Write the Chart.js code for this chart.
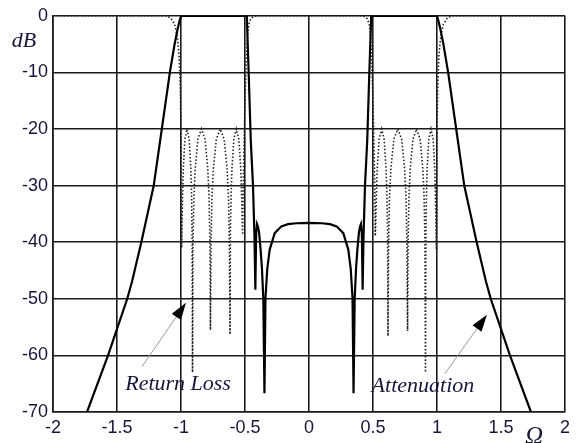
<!DOCTYPE html>
<html>
<head>
<meta charset="utf-8">
<script src="https://cdn.jsdelivr.net/npm/chart.js@4/dist/chart.umd.min.js"></script>
<style>
  body { margin: 0; background: #fff; }
  canvas { display: block; }
</style>
</head>
<body>
<canvas id="myChart" width="576" height="443"></canvas>
<script>
// normalized frequency (Omega) and response in dB
var att_x = [-1.734, -1.57, -1.42, -1.383, -1.31, -1.213, -1.15, -1.087, -1.05, -1.025, -1.01, -1.0, -0.99,
  -0.486, -0.47, -0.455, -0.4375, -0.426, -0.419, -0.413, -0.406, -0.398, -0.39, -0.378, -0.368, -0.357,
  -0.348, -0.34, -0.326, -0.307, -0.268, -0.216, -0.164, -0.1, 0,
  0.1, 0.164, 0.216, 0.268, 0.307, 0.326, 0.34, 0.348, 0.357, 0.368, 0.378, 0.39, 0.398, 0.406, 0.413,
  0.419, 0.426, 0.4375, 0.455, 0.47, 0.486,
  0.99, 1.0, 1.01, 1.025, 1.05, 1.087, 1.15, 1.213, 1.31, 1.383, 1.42, 1.57, 1.734];
var att_db = [-70, -60, -50, -47, -40, -30, -20, -10, -5, -2.2, -0.8, -0.1, 0,
  0, -11, -22, -30, -39, -48.4, -38.5, -36.8, -37.3, -38.3, -41.3, -44.5, -49.9,
  -66.7, -49.9, -44.7, -41.3, -38.4, -37.2, -36.8, -36.65, -36.6,
  -36.65, -36.8, -37.2, -38.4, -41.3, -44.7, -49.9, -66.7, -49.9, -44.5, -41.3, -38.3, -37.3, -36.8, -38.5,
  -48.4, -39, -30, -22, -11, 0,
  0, -0.1, -0.8, -2.2, -5, -10, -20, -30, -40, -47, -50, -60, -70];

var rl_x = [-2, -1.12, -1.08, -1.05, -1.03, -1.015, -1.005, -0.999, -0.995,
  -0.993, -0.988, -0.982, -0.97, -0.953, -0.936, -0.923, -0.917, -0.913, -0.91,
  -0.906, -0.899, -0.889, -0.868, -0.84, -0.812, -0.791, -0.781, -0.774, -0.77,
  -0.765, -0.758, -0.747, -0.724, -0.694, -0.663, -0.64, -0.629, -0.622, -0.617,
  -0.614, -0.609, -0.602, -0.587, -0.568, -0.548, -0.533, -0.526, -0.521, -0.518,
  -0.512, -0.505, -0.497, -0.49, -0.484, -0.478, -0.47, -0.455, -0.43, -0.4,
  0.4, 0.43, 0.455, 0.47, 0.478, 0.484, 0.49, 0.497, 0.505, 0.512, 0.518,
  0.521, 0.526, 0.533, 0.548, 0.568, 0.587, 0.602, 0.609, 0.614, 0.617,
  0.622, 0.629, 0.64, 0.663, 0.694, 0.724, 0.747, 0.758, 0.765, 0.77,
  0.774, 0.781, 0.791, 0.812, 0.84, 0.868, 0.889, 0.899, 0.906, 0.91,
  0.913, 0.917, 0.923, 0.936, 0.953, 0.97, 0.982, 0.988, 0.993, 0.995,
  0.999, 1.005, 1.015, 1.03, 1.05, 1.08, 1.12, 2];
var rl_db = [0, 0, -0.4, -1.5, -3.5, -7, -13, -22, -41,
  -38, -32, -27, -21.8, -20, -21.8, -27, -32, -40, -63,
  -40, -32, -27, -21.8, -20, -21.8, -27, -32, -40, -55.5,
  -40, -32, -27, -21.8, -20, -21.8, -27, -32, -40, -56.3,
  -38, -32, -27, -21.8, -20, -21.8, -27, -32, -37, -38.7,
  -28, -20, -13, -8, -5, -3, -1.5, -0.5, -0.1, 0,
  0, -0.1, -0.5, -1.5, -3, -5, -8, -13, -20, -28, -38.9,
  -37, -32, -27, -21.8, -20, -21.8, -27, -32, -38, -56.6,
  -40, -32, -27, -21.8, -20, -21.8, -27, -32, -40, -55.7,
  -40, -32, -27, -21.8, -20, -21.8, -27, -32, -40, -63,
  -40, -32, -27, -21.8, -20, -21.8, -27, -32, -38, -41.3,
  -22, -13, -7, -3.5, -1.5, -0.4, 0, 0];

var x_ticks = [-2, -1.5, -1, -0.5, 0, 0.5, 1, 1.5, 2];
var y_ticks = [0, -10, -20, -30, -40, -50, -60, -70];

function puntos(xs, ys) {
  var out = [];
  for (var i = 0; i < xs.length; i++) out.push({ x: xs[i], y: ys[i] });
  return out;
}

var colorTexto = '#16163a';

function flecha(ctx, x1, y1, x2, y2) {
  var ang = Math.atan2(y2 - y1, x2 - x1);
  ctx.strokeStyle = '#9a9a9a';
  ctx.lineWidth = 1;
  ctx.beginPath();
  ctx.moveTo(x1, y1);
  ctx.lineTo(x2 - 12 * Math.cos(ang), y2 - 12 * Math.sin(ang));
  ctx.stroke();
  ctx.fillStyle = '#000';
  ctx.beginPath();
  ctx.moveTo(x2, y2);
  ctx.lineTo(x2 - 17 * Math.cos(ang) + 5.5 * Math.sin(ang), y2 - 17 * Math.sin(ang) - 5.5 * Math.cos(ang));
  ctx.lineTo(x2 - 17 * Math.cos(ang) - 5.5 * Math.sin(ang), y2 - 17 * Math.sin(ang) + 5.5 * Math.cos(ang));
  ctx.closePath();
  ctx.fill();
}

// labels, arrows and axis names
var rotulos = {
  id: 'rotulos',
  afterDraw: function (chart) {
    var ctx = chart.ctx;
    var sx = chart.scales.x, sy = chart.scales.y;
    ctx.save();
    flecha(ctx, sx.getPixelForValue(-1.305), sy.getPixelForValue(-62), sx.getPixelForValue(-0.961), sy.getPixelForValue(-50.7));
    flecha(ctx, sx.getPixelForValue(1.0625), sy.getPixelForValue(-63.2), sx.getPixelForValue(1.39), sy.getPixelForValue(-52.8));

    ctx.fillStyle = colorTexto;
    ctx.textBaseline = 'alphabetic';
    ctx.textAlign = 'center';
    ctx.font = 'italic 22px "Liberation Serif", serif';
    ctx.fillText('Return Loss', sx.getPixelForValue(-1.023), sy.getPixelForValue(-66.2));
    ctx.fillText('Attenuation', sx.getPixelForValue(0.89), sy.getPixelForValue(-66.5));

    ctx.font = 'italic 22px "Liberation Serif", serif';
    ctx.fillText('dB', 24, 47);
    ctx.font = 'italic 25px "Liberation Serif", serif';
    ctx.fillText('\u03A9', 534, 444);
    ctx.restore();
  }
};

new Chart(document.getElementById('myChart'), {
  type: 'scatter',
  data: {
    datasets: [
      {
        label: 'Attenuation',
        data: puntos(att_x, att_db),
        showLine: true,
        borderColor: '#000',
        borderWidth: 2.2,
        pointRadius: 0,
        tension: 0,
        order: 0
      },
      {
        label: 'Return Loss',
        data: puntos(rl_x, rl_db),
        showLine: true,
        borderColor: '#222',
        borderWidth: 1.6,
        borderDash: [1.5, 2],
        pointRadius: 0,
        tension: 0,
        order: 1
      }
    ]
  },
  options: {
    responsive: false,
    animation: false,
    devicePixelRatio: 1,
    layout: { padding: { top: 9, right: 11, left: 0, bottom: 0 } },
    plugins: {
      legend: { display: false },
      tooltip: { enabled: false }
    },
    scales: {
      x: {
        type: 'linear',
        min: -2,
        max: 2,
        afterFit: function (s) { s.height = 31; },
        afterBuildTicks: function (s) { s.ticks = x_ticks.map(function (v) { return { value: v }; }); },
        grid: { color: '#1a1a1a', lineWidth: 1.6, drawTicks: false },
        border: { color: '#1a1a1a', width: 1.6 },
        ticks: {
          padding: 5,
          color: colorTexto,
          font: { family: '"Liberation Sans", Arial, sans-serif', size: 18 },
          maxRotation: 0,
          callback: function (v) { return String(v); }
        }
      },
      y: {
        type: 'linear',
        min: -70,
        max: 0,
        afterFit: function (s) { s.width = 53; },
        afterBuildTicks: function (s) { s.ticks = y_ticks.map(function (v) { return { value: v }; }); },
        grid: { color: '#1a1a1a', lineWidth: 1.6, drawTicks: false },
        border: { color: '#1a1a1a', width: 1.6 },
        ticks: {
          padding: 5,
          color: colorTexto,
          font: { family: '"Liberation Sans", Arial, sans-serif', size: 18 },
          callback: function (v) { return String(v); }
        }
      }
    }
  },
  plugins: [rotulos]
});
</script>
</body>
</html>
